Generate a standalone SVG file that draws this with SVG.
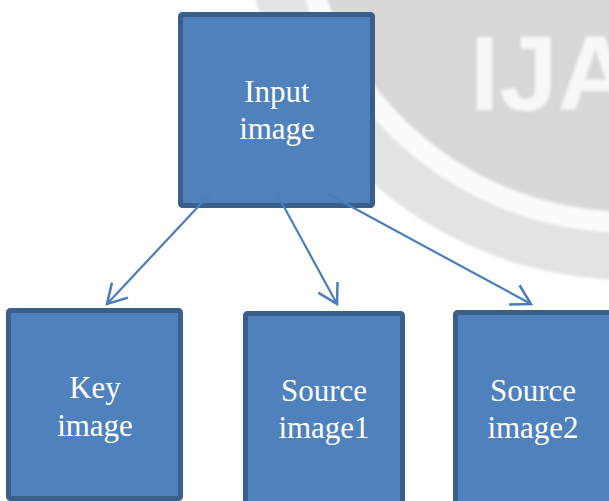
<svg xmlns="http://www.w3.org/2000/svg" width="609" height="501" viewBox="0 0 609 501">
  <defs>
    <style>
      .box { fill: #4F81BD; stroke: #3A5F8B; stroke-width: 5; }
      .label { font-family: "Liberation Serif", "Times New Roman", serif; font-size: 31px; fill: #FFFFFF; text-anchor: middle; }
      .link { fill: none; stroke: #4A7EBB; stroke-width: 2.2; marker-end: url(#arrow); }
    </style>
    <marker id="arrow" viewBox="-25 -15 30 30" refX="0" refY="0" markerWidth="30" markerHeight="30" markerUnits="userSpaceOnUse" orient="auto" overflow="visible">
      <path d="M-19,-11 L0,0 L-19,11" fill="none" stroke="#4A7EBB" stroke-width="2.5"/>
    </marker>
    <filter id="soft" x="-10%" y="-10%" width="120%" height="120%">
      <feGaussianBlur stdDeviation="1.4"/>
    </filter>
  </defs>

  <rect width="609" height="501" fill="#FFFFFF"/>

  <!-- background seal in the top-right corner -->
  <g id="watermark" filter="url(#soft)">
    <circle cx="630" cy="-110" r="390" fill="#E4E3E3"/>
    <circle cx="630" cy="-110" r="343" fill="#FBFBFB"/>
    <circle cx="630" cy="-110" r="322" fill="#DAD7D7"/>
    <text x="470" y="110" font-family="'Liberation Sans', Arial, sans-serif" font-weight="bold" font-size="105" fill="#F8F8F8">IJA</text>
  </g>

  <g id="node-input">
    <rect class="box" x="180.5" y="14.5" width="192" height="191" rx="2"/>
    <text class="label" x="277" y="102">Input</text>
    <text class="label" x="277" y="139">image</text>
  </g>

  <g id="node-key">
    <rect class="box" x="8.5" y="310.5" width="172" height="188" rx="2"/>
    <text class="label" x="95" y="398">Key</text>
    <text class="label" x="95" y="436">image</text>
  </g>

  <g id="node-source1">
    <rect class="box" x="245.5" y="313.5" width="157" height="210" rx="2"/>
    <text class="label" x="324" y="401">Source</text>
    <text class="label" x="324" y="438">image1</text>
  </g>

  <g id="node-source2">
    <rect class="box" x="455.5" y="312.5" width="157" height="210" rx="2"/>
    <text class="label" x="533" y="401">Source</text>
    <text class="label" x="533" y="438">image2</text>
  </g>

  <g id="connectors">
    <path class="link" d="M210,194 L107,304"/>
    <path class="link" d="M277,194 L337,304"/>
    <path class="link" d="M328,194 L531,304"/>
  </g>
</svg>
